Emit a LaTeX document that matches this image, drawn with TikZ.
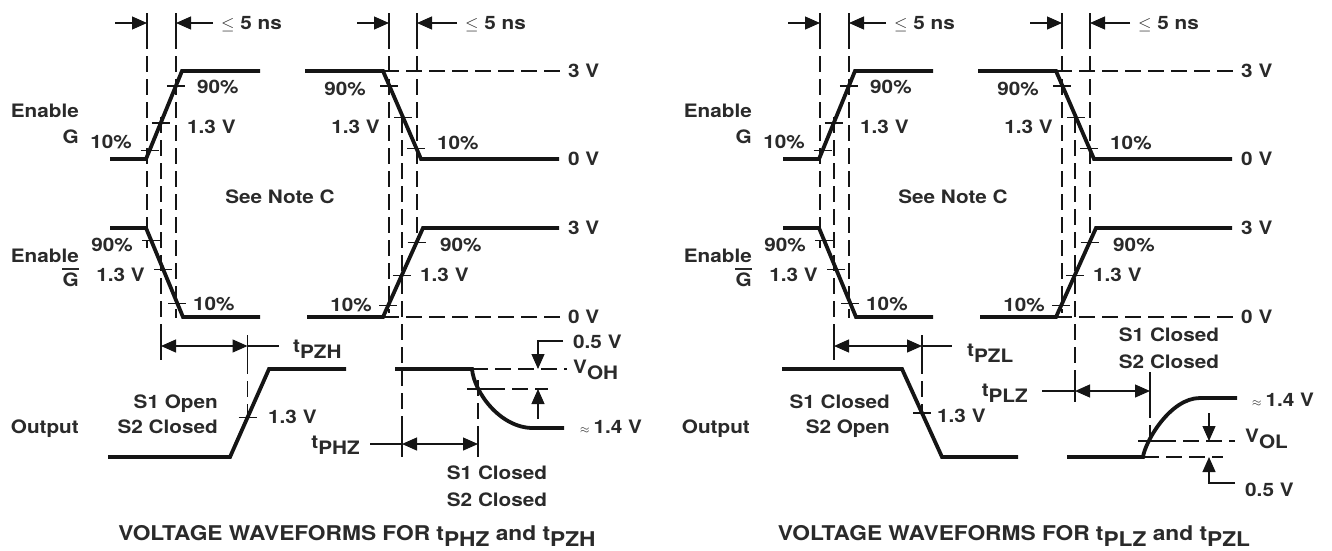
\documentclass[tikz,border=0pt]{standalone}
\usepackage{fontspec}
\setmainfont{TeX Gyre Heros}[FakeStretch=1.12]
\usetikzlibrary{arrows.meta,calc}
\definecolor{ink}{HTML}{151515}
\definecolor{txt}{HTML}{2A2A2A}
\newcommand{\lowsub}[1]{\raisebox{-0.32em}{#1}}
\newcommand{\apx}{{\fontsize{12}{12}\selectfont$\approx$}\hspace{4pt}}
\tikzset{
  wave/.style={line width=3.8pt, draw=ink},
  guide/.style={line width=1.2pt, draw=ink, dash pattern=on 16pt off 7pt},
  thinl/.style={line width=1.2pt, draw=ink},
  dimarr/.style={thinl, -{Triangle[length=15pt,width=13pt]}},
  dimboth/.style={thinl, {Triangle[length=15pt,width=13pt]}-{Triangle[length=15pt,width=13pt]}},
  lbl/.style={inner sep=0pt, text=txt, font=\fontsize{18.5}{20}\selectfont\bfseries, text height=13.3pt, text depth=0pt},
  ttl/.style={inner sep=0pt, text=txt, font=\fontsize{20.3}{22}\selectfont\bfseries, text height=14.6pt, text depth=0pt}
}
\newcommand{\tick}[1]{\draw[thinl] ([xshift=-9pt]#1) -- ([xshift=9pt]#1);}
\newcommand{\toppart}[1]{%
  % time marks at top
  \foreach \x in {147,176,389,417} {\draw[thinl] (\x,13) -- (\x,33);}
  \draw[dimarr] (115,23) -- (147,23);
  \draw[dimarr] (213,23) -- (176,23);
  \node[lbl,anchor=west] (ns1#1) at (221,23) {$\leq$ 5 ns};
  \draw[dimarr] (357,23) -- (389,23);
  \draw[dimarr] (457,23) -- (417,23);
  \node[lbl,anchor=west] (ns2#1) at (465,23) {$\leq$ 5 ns};
  % guide lines
  \draw[guide] (147,33) -- (147,248);
  \draw[guide] (176,33) -- (176,318);
  \draw[guide] (161,117) -- (161,335);
  \draw[thinl] (161,335) -- (161,360);
  \draw[guide] (389,33) -- (389,313);
  \draw[guide] (417,33) -- (417,233);
  \draw[guide] (383,71) -- (563,71);
  \draw[guide] (383,317) -- (563,317);
  % Enable G
  \coordinate (gra#1) at (146,159); \coordinate (grb#1) at (182,71);
  \draw[wave] (110,159) -- (gra#1) -- (grb#1) -- (260,71);
  \tick{$(gra#1)!0.1!(grb#1)$} \tick{$(gra#1)!0.41!(grb#1)$} \tick{$(gra#1)!0.83!(grb#1)$}
  \coordinate (gfa#1) at (383,71); \coordinate (gfb#1) at (421,159);
  \draw[wave] (305,71) -- (gfa#1) -- (gfb#1) -- (559,159);
  \tick{$(gfa#1)!0.17!(gfb#1)$} \tick{$(gfa#1)!0.53!(gfb#1)$} \tick{$(gfa#1)!0.88!(gfb#1)$}
  % Enable G-bar
  \coordinate (bfa#1) at (146,228); \coordinate (bfb#1) at (183,317);
  \draw[wave] (110,228) -- (bfa#1) -- (bfb#1) -- (260,317);
  \tick{$(bfa#1)!0.14!(bfb#1)$} \tick{$(bfa#1)!0.47!(bfb#1)$} \tick{$(bfa#1)!0.85!(bfb#1)$}
  \coordinate (bra#1) at (383,317); \coordinate (brb#1) at (423,228);
  \draw[wave] (307,317) -- (bra#1) -- (brb#1) -- (559,228);
  \tick{$(bra#1)!0.13!(brb#1)$} \tick{$(bra#1)!0.47!(brb#1)$} \tick{$(bra#1)!0.84!(brb#1)$}
  % labels
  \node[lbl,anchor=east] (en1#1) at (79,111) {Enable};
  \node[lbl,anchor=east] (g1#1) at (79,137) {G};
  \node[lbl] (p10a#1) at (111,142) {10\%};
  \node[lbl,anchor=west] (v13a#1) at (187,127) {1.3 V};
  \node[lbl,anchor=west] (p90a#1) at (197,87) {90\%};
  \node[lbl,anchor=east] (p90b#1) at (366,89) {90\%};
  \node[lbl,anchor=east] (v13b#1) at (380,127) {1.3 V};
  \node[lbl,anchor=west] (p10b#1) at (437,143) {10\%};
  \node[lbl,anchor=west] (l3a#1) at (568,71) {3 V};
  \node[lbl,anchor=west] (l0a#1) at (568,159) {0 V};
  \node[lbl] (note#1) at (280,197) {See Note C};
  \node[lbl,anchor=east] (en2#1) at (79,256) {Enable};
  \node[lbl,anchor=east] (g2#1) at (79,280) {G};
  \draw[line width=2.2pt,txt] ([yshift=4pt]g2#1.north west) -- ([yshift=4pt]g2#1.north east);
  \node[lbl,anchor=east] (p90c#1) at (133,245) {90\%};
  \node[lbl,anchor=east] (v13c#1) at (145,275) {1.3 V};
  \node[lbl,anchor=west] (p10c#1) at (193,304) {10\%};
  \node[lbl,anchor=east] (p10d#1) at (372,305) {10\%};
  \node[lbl,anchor=west] (v13d#1) at (420,275) {1.3 V};
  \node[lbl,anchor=west] (p90d#1) at (440,245) {90\%};
  \node[lbl,anchor=west] (l3b#1) at (568,228) {3 V};
  \node[lbl,anchor=west] (l0b#1) at (568,317) {0 V};
}
\begin{document}
\begin{tikzpicture}[x=1pt,y=-1pt]
\useasboundingbox (0,0) rectangle (1332,550);
\foreach \ox/\s in {0/a,673/b} {
  \begin{scope}[xshift=\ox pt]
    \toppart{\s}
  \end{scope}
}
% ===== left output =====
\draw[guide] (402,117) -- (402,432);
\draw[thinl] (402,432) -- (402,457);
\coordinate (ora) at (230,457); \coordinate (orb) at (269,369);
\draw[wave] (108,457) -- (ora) -- (orb) -- (346,369);
\coordinate (o13) at ($(ora)!0.45!(orb)$);
\tick{o13}
\draw[thinl] (o13 |- 0,335) -- (o13 |- 0,358);
\draw[guide] (o13 |- 0,358) -- (o13);
\coordinate (pzh) at (o13 |- 0,346);
\draw[dimboth] (161,346) -- (pzh);
\draw[thinl] (pzh) -- ++(31,0);
\node[lbl,anchor=west] (tpzh) at (293,346) {t\lowsub{PZH}};
\node[lbl,anchor=west] (v13o) at (268,417) {1.3 V};
\node[lbl,anchor=east] (s1o) at (218,402) {S1 Open};
\node[lbl,anchor=east] (s2c) at (218,427) {S2 Closed};
\node[lbl,anchor=east] (outa) at (79,427) {Output};
\coordinate (ofa) at (472,369); \coordinate (ofb) at (533,428);
\draw[wave] (395,369) -- (ofa) .. controls (474,392) and (500,428) .. (ofb) -- (564,428);
\draw[guide] (ofa) -- (567,369);
\draw[thinl] (467,389) -- (489,389);
\draw[guide] (489,389) -- (548,389);
\draw[guide] (478,380) -- (478,432);
\draw[thinl] (478,432) -- (478,457);
\draw[dimboth] (402,444) -- (478,444);
\draw[thinl] (370,444) -- (402,444);
\node[lbl,anchor=east] (tphz) at (360,442) {t\lowsub{PHZ}};
\draw[dimarr] (563,341) -- (538,341) -- (538,369);
\draw[dimarr] (538,419) -- (538,389);
\node[lbl,anchor=west] (v05a) at (573,342) {0.5 V};
\node[lbl,anchor=west] (voh) at (573,367) {V\lowsub{OH}};
\node[lbl,anchor=west] (v14a) at (580,427) {\apx 1.4 V};
\node[lbl] (s1ca) at (497,473) {S1 Closed};
\node[lbl] (s2ca) at (497,500) {S2 Closed};
\node[ttl] (tta) at (357,533) {VOLTAGE WAVEFORMS FOR t\lowsub{PHZ} and t\lowsub{PZH}};
% ===== right output =====
\draw[guide] (1075,117) -- (1075,380);
\draw[thinl] (1075,380) -- (1075,402);
\coordinate (rfa) at (902,369); \coordinate (rfb) at (942,457);
\draw[wave] (782,369) -- (rfa) -- (rfb) -- (1018,457);
\coordinate (r13) at ($(rfa)!0.5!(rfb)$);
\tick{r13}
\draw[thinl] (r13 |- 0,335) -- (r13 |- 0,358);
\draw[guide] (r13 |- 0,358) -- (r13);
\coordinate (pzl) at (r13 |- 0,346);
\draw[dimboth] (834,346) -- (pzl);
\draw[thinl] (pzl) -- ++(30,0);
\node[lbl,anchor=west] (tpzl) at (967,350) {t\lowsub{PZL}};
\node[lbl,anchor=west] (v13r) at (937,416) {1.3 V};
\node[lbl,anchor=east] (s1cr) at (890,402) {S1 Closed};
\node[lbl,anchor=east] (s2or) at (890,427) {S2 Open};
\node[lbl,anchor=east] (outb) at (750,427) {Output};
\node[lbl] (s1cb) at (1169,335) {S1 Closed};
\node[lbl] (s2cb) at (1169,362) {S2 Closed};
\draw[dimboth] (1075,391) -- (1150,391);
\draw[thinl] (1042,391) -- (1075,391);
\node[lbl,anchor=east] (tplz) at (1028,390) {t\lowsub{PLZ}};
\draw[thinl] (1150,372) -- (1150,402);
\draw[guide] (1150,402) -- (1150,448);
\coordinate (rra) at (1143,457); \coordinate (rrb) at (1200,398);
\draw[wave] (1067,457) -- (rra) .. controls (1145,442) and (1170,398) .. (rrb) -- (1237,398);
\draw[thinl] (1138,441) -- (1160,441);
\draw[guide] (1160,441) -- (1235,441);
\draw[guide] (rra) -- (1223,457);
\draw[dimarr] (1209,413) -- (1209,441);
\draw[dimarr] (1235,483) -- (1209,483) -- (1209,457);
\node[lbl,anchor=west] (v14b) at (1252,400) {\apx 1.4 V};
\node[lbl,anchor=west] (vol) at (1245,436) {V\lowsub{OL}};
\node[lbl,anchor=west] (v05b) at (1245,490) {0.5 V};
\node[ttl] (ttb) at (1014,533) {VOLTAGE WAVEFORMS FOR t\lowsub{PLZ} and t\lowsub{PZL}};
\end{tikzpicture}
\end{document}
